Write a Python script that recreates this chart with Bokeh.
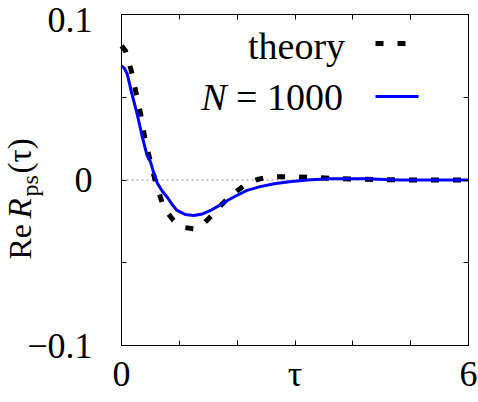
import math
from bokeh.plotting import figure
from bokeh.models import Range1d, FixedTicker, LinearAxis, Label, CustomJSTickFormatter
from bokeh.embed import file_html
from bokeh.resources import INLINE

# ---------------- data ----------------
tau_theory = [0.00, 0.07, 0.17, 0.25, 0.33, 0.40, 0.48, 0.58, 0.70, 0.80, 0.90, 1.05,
              1.25, 1.40, 1.56, 1.70, 1.83, 2.00, 2.17, 2.35, 2.52, 2.70, 2.92, 3.32,
              3.70, 4.10, 4.48, 5.00, 5.50, 6.00]
re_theory = [0.081, 0.078, 0.066, 0.053, 0.040, 0.026, 0.014, 0.000, -0.0134, -0.020,
             -0.0245, -0.0285, -0.0295, -0.027, -0.0215, -0.016, -0.0114, -0.0065,
             -0.0023, 0.0003, 0.0017, 0.0020, 0.0020, 0.0016, 0.0008, 0.0006, 0.0002,
             0.0, 0.0, 0.0]

tau_n1000 = [0.00, 0.05, 0.10, 0.18, 0.27, 0.36, 0.44, 0.50, 0.56, 0.62, 0.70, 0.79,
             0.88, 0.96, 1.10, 1.25, 1.40, 1.54, 1.70, 1.83, 2.00, 2.17, 2.40, 2.64,
             2.90, 3.21, 3.60, 4.20, 4.80, 5.40, 6.00]
re_n1000 = [0.069, 0.0675, 0.064, 0.052, 0.040, 0.026, 0.015, 0.011, 0.004, -0.002,
            -0.0065, -0.0104, -0.015, -0.0184, -0.0208, -0.0215, -0.0205, -0.0184,
            -0.0152, -0.0124, -0.0092, -0.0063, -0.0040, -0.0023, -0.0010, 0.0,
            0.0007, 0.0007, 0.0, 0.0, 0.0]

xtick_vals = [0, 1, 2, 3, 4, 5, 6]
xtick_labels = ["0", "", "", "τ", "", "", "6"]
ytick_vals = [-0.1, -0.05, 0.0, 0.05, 0.1]
ytick_labels = ["−0.1", "", "0", "", "0.1"]

series_names = ["theory", "N", "= 1000"]

# ---------------- layout constants (canvas pixels) ----------------
W, H = 478, 402
FL, FR, FT, FB = 121, 468, 14, 345
XMIN, XMAX, YMIN, YMAX = 0.0, 6.0, -0.1, 0.1
FONT = "Liberation Serif"


def X(px):
    return XMIN + (px - FL) / (FR - FL) * (XMAX - XMIN)


def Y(py):
    return YMAX - (py - FT) / (FB - FT) * (YMAX - YMIN)


p = figure(width=W, height=H,
           x_range=Range1d(X(0), X(W)), y_range=Range1d(Y(H), Y(0)),
           x_axis_type=None, y_axis_type=None,
           output_backend="svg", toolbar_location=None,
           min_border=0, min_border_left=0, min_border_right=0,
           min_border_top=0, min_border_bottom=0)
p.xgrid.visible = False
p.ygrid.visible = False
p.outline_line_color = None
p.background_fill_color = "white"
p.border_fill_color = "white"


def fmt(vals, labs):
    return CustomJSTickFormatter(args=dict(vals=vals, labs=labs), code="""
        for (let i = 0; i < vals.length; i++) {
            if (Math.abs(vals[i] - tick) < 1e-9) return labs[i];
        }
        return "";
    """)


def make_axis(ticks, loc, bounds, labels=None, standoff=0):
    ax = LinearAxis(fixed_location=loc, bounds=bounds)
    ax.ticker = FixedTicker(ticks=ticks)
    ax.major_tick_in = 5
    ax.major_tick_out = 0
    ax.minor_tick_in = 0
    ax.minor_tick_out = 0
    ax.axis_line_color = "black"
    ax.axis_line_width = 1
    ax.major_tick_line_color = "black"
    ax.major_label_text_font = FONT
    ax.major_label_text_color = "black"
    if labels is not None:
        ax.formatter = fmt(ticks, labels)
        ax.major_label_text_font_size = "36px"
        ax.major_label_standoff = standoff
    else:
        ax.formatter = fmt(ticks, [""] * len(ticks))
        ax.major_label_text_font_size = "0px"
        ax.major_label_standoff = 0
    return ax


p.add_layout(make_axis(xtick_vals, YMIN, (XMIN, XMAX), xtick_labels, 8), "below")
p.add_layout(make_axis(xtick_vals, YMAX, (XMIN, XMAX)), "above")
p.add_layout(make_axis(ytick_vals, XMIN, (YMIN, YMAX)), "left")
p.add_layout(make_axis(ytick_vals, XMAX, (YMIN, YMAX)), "right")

# y tick labels (right-aligned, like the reference); the top one is kept
# just inside the canvas edge
YLAB_TOP = Y(19)
for v, lab in zip(ytick_vals, ytick_labels):
    if lab:
        p.add_layout(Label(x=X(92), y=min(v, YLAB_TOP), text=lab, text_align="right",
                           text_baseline="middle", text_font=FONT,
                           text_font_size="36px", text_color="black"))

# zero line
p.segment(x0=[XMIN], y0=[0.0], x1=[XMAX], y1=[0.0], line_color="#8a8a8a",
          line_dash="2 3", line_width=1)

# curves
p.line(tau_theory, re_theory, line_color="black", line_width=5, line_dash="8 14")
p.line(tau_n1000, re_n1000, line_color="#0000ff", line_width=3)

# y axis label: Re R_ps(τ)   (x = text middle line, y = text start)
ang = math.pi / 2
for txt, mx, sy, size, style in [("Re", 19, 259, "32px", "normal"),
                                 ("R", 19, 218, "33px", "italic"),
                                 ("ps", 29, 196, "24px", "normal"),
                                 ("(τ)", 19, 173, "33px", "normal")]:
    p.add_layout(Label(x=X(mx), y=Y(sy), text=txt, angle=ang, angle_units="rad",
                       text_align="left", text_baseline="middle",
                       text_font=FONT, text_font_size=size, text_font_style=style,
                       text_color="black"))

# legend
p.add_layout(Label(x=X(296), y=Y(45), text=series_names[0], text_align="center",
                   text_baseline="middle", text_font=FONT, text_font_size="38px",
                   text_color="black"))
p.add_layout(Label(x=X(289), y=Y(96), text=series_names[2], text_align="center",
                   text_baseline="middle", text_font=FONT, text_font_size="38px",
                   text_color="black"))
p.add_layout(Label(x=X(226), y=Y(96), text=series_names[1], text_align="right",
                   text_baseline="middle", text_font=FONT, text_font_size="38px",
                   text_font_style="italic", text_color="black"))
p.line([X(375), X(419)], [Y(43), Y(43)], line_color="black", line_width=5,
       line_dash="8 14")
p.line([X(375), X(418)], [Y(96), Y(96)], line_color="#0000ff", line_width=3)

open("out.html", "w").write(file_html(p, INLINE))
